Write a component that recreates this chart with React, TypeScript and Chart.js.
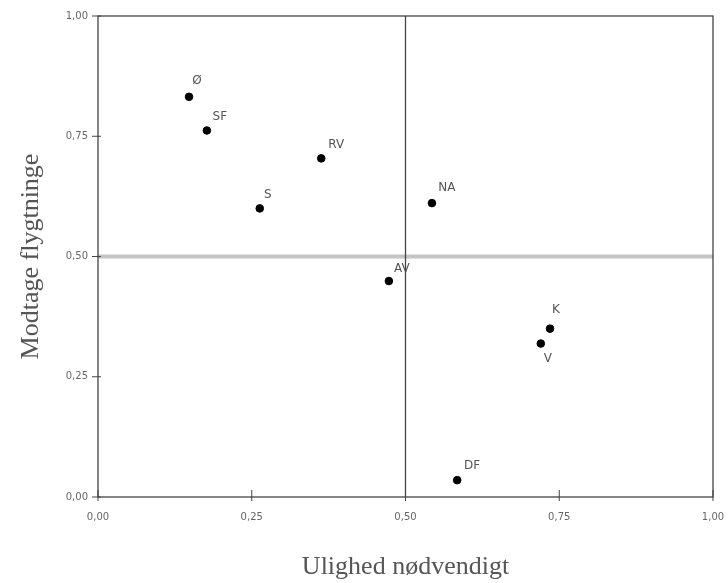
import React, { useEffect, useRef } from "react";
import { Chart, registerables } from "chart.js";

Chart.register(...registerables);

const parties = ["Ø", "SF", "S", "RV", "NA", "AV", "K", "V", "DF"];
const ulighed = [0.148, 0.177, 0.263, 0.363, 0.543, 0.473, 0.735, 0.72, 0.584];
const flygtninge = [0.832, 0.762, 0.6, 0.704, 0.611, 0.449, 0.35, 0.319, 0.035];
const tickValues = [0, 0.25, 0.5, 0.75, 1];
const xTitle = "Ulighed nødvendigt";
const yTitle = "Modtage flygtninge";

// label placement (style): offset in px from point
const labelOffsets: [number, number][] = [
  [8, -16], [13, -14], [8, -14], [15, -14], [15, -15], [13, -12], [6, -19], [7, 15], [15, -14],
];

const fmt = (v: number) => v.toFixed(2).replace(".", ",");

const decorPlugin = {
  id: "decor",
  beforeDatasetsDraw(chart: any) {
    const { ctx, chartArea, scales } = chart;
    const x = scales.x;
    const y = scales.y;
    ctx.save();
    const y5 = y.getPixelForValue(0.5);
    ctx.strokeStyle = "#c4c4c4";
    ctx.lineWidth = 4;
    ctx.beginPath();
    ctx.moveTo(chartArea.left, y5);
    ctx.lineTo(chartArea.right, y5);
    ctx.stroke();
    const x5 = x.getPixelForValue(0.5);
    ctx.strokeStyle = "#444";
    ctx.lineWidth = 1.3;
    ctx.beginPath();
    ctx.moveTo(x5, chartArea.top);
    ctx.lineTo(x5, chartArea.bottom);
    ctx.stroke();
    ctx.strokeStyle = "#444";
    ctx.lineWidth = 1.3;
    ctx.strokeRect(chartArea.left, chartArea.top, chartArea.right - chartArea.left, chartArea.bottom - chartArea.top);
    ctx.lineWidth = 1;
    tickValues.forEach((v) => {
      const px = x.getPixelForValue(v);
      ctx.beginPath();
      ctx.moveTo(px, chartArea.bottom - 7);
      ctx.lineTo(px, chartArea.bottom + 4);
      ctx.stroke();
      const py = y.getPixelForValue(v);
      ctx.beginPath();
      ctx.moveTo(chartArea.left - 6, py);
      ctx.lineTo(chartArea.left + 3, py);
      ctx.stroke();
    });
    ctx.restore();
  },
  afterDatasetsDraw(chart: any) {
    const { ctx } = chart;
    const meta = chart.getDatasetMeta(0);
    ctx.save();
    ctx.font = "12px 'DejaVu Sans'";
    ctx.fillStyle = "#555";
    ctx.textAlign = "center";
    ctx.textBaseline = "middle";
    meta.data.forEach((el: any, i: number) => {
      const [dx, dy] = labelOffsets[i];
      ctx.fillText(parties[i], el.x + dx, el.y + dy);
    });
    ctx.restore();
  },
};

export default function App() {
  const ref = useRef<HTMLCanvasElement | null>(null);
  useEffect(() => {
    if (!ref.current) return;
    const chart = new Chart(ref.current, {
      type: "scatter",
      data: {
        datasets: [
          {
            data: ulighed.map((u, i) => ({ x: u, y: flygtninge[i] })),
            backgroundColor: "#000",
            borderColor: "#000",
            pointRadius: 3.8,
            pointHoverRadius: 3.8,
          },
        ],
      },
      options: {
        animation: false,
        responsive: true,
        maintainAspectRatio: false,
        layout: { padding: { top: 14, right: 0, left: 0, bottom: 0 } },
        plugins: { legend: { display: false }, tooltip: { enabled: false } },
        scales: {
          x: {
            type: "linear",
            min: 0,
            max: 1,
            afterBuildTicks: (s: any) => {
              s.ticks = tickValues.map((v) => ({ value: v }));
            },
            afterFit: (s: any) => {
              s.height = 86;
              s.paddingRight = 15;
              s.paddingLeft = 0;
            },
            grid: { display: false, drawTicks: false },
            border: { display: false },
            ticks: {
              padding: 14,
              color: "#666",
              font: { family: "'DejaVu Sans'", size: 10 },
              callback: (v: any) => fmt(Number(v)),
              maxRotation: 0,
            },
            title: {
              display: true,
              text: xTitle,
              color: "#555",
              font: { family: "'Liberation Serif'", size: 26 },
              padding: { top: 13, bottom: 0 },
            },
          },
          y: {
            type: "linear",
            min: 0,
            max: 1,
            afterBuildTicks: (s: any) => {
              s.ticks = tickValues.map((v) => ({ value: v }));
            },
            afterFit: (s: any) => {
              s.width = 98;
            },
            grid: { display: false, drawTicks: false },
            border: { display: false },
            ticks: {
              padding: 10,
              color: "#666",
              font: { family: "'DejaVu Sans'", size: 10 },
              callback: (v: any) => fmt(Number(v)),
            },
            title: {
              display: true,
              text: yTitle,
              color: "#555",
              font: { family: "'Liberation Serif'", size: 26 },
              padding: { top: 16, bottom: 0 },
            },
          },
        },
      },
      plugins: [decorPlugin],
    } as any);
    return () => chart.destroy();
  }, []);
  return (
    <div style={{ position: "fixed", left: 0, top: 0, width: 728, height: 583, background: "#fff" }}>
      <canvas ref={ref} />
    </div>
  );
}
